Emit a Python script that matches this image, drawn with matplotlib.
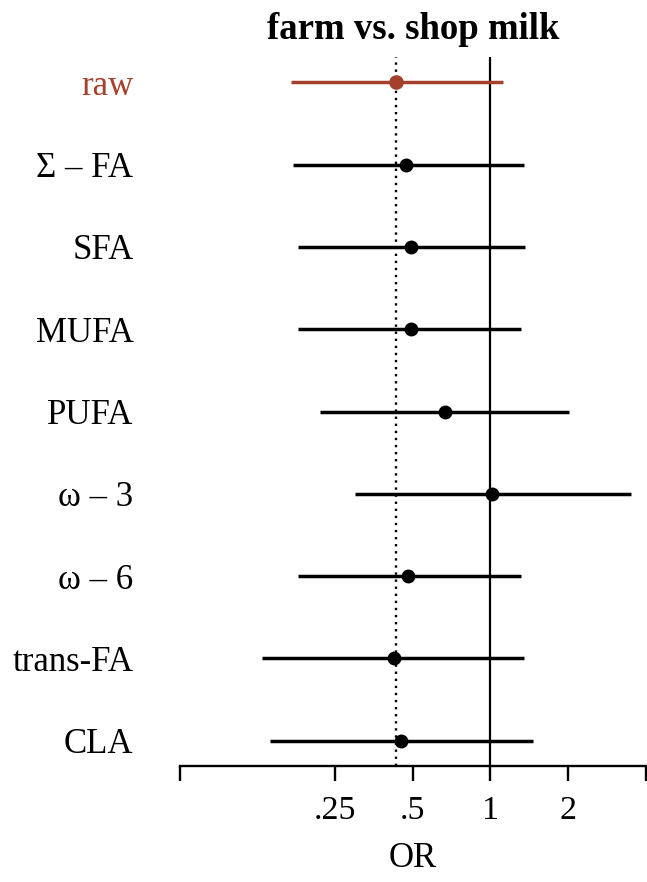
import matplotlib
matplotlib.use("Agg")
import matplotlib.pyplot as plt
from matplotlib.ticker import FixedLocator, NullLocator

labels = ["raw", "\u03a3 \u2013 FA", "SFA", "MUFA", "PUFA",
          "\u03c9 \u2013 3", "\u03c9 \u2013 6", "trans-FA", "CLA"]
est = [0.429, 0.469, 0.490, 0.490, 0.665, 1.018, 0.477, 0.421, 0.451]
lo = [0.169, 0.171, 0.179, 0.179, 0.219, 0.299, 0.179, 0.130, 0.140]
hi = [1.116, 1.347, 1.359, 1.310, 2.014, 3.510, 1.310, 1.347, 1.456]
tick_vals = [0.0625, 0.25, 0.5, 1, 2, 4]
tick_labels = ["", ".25", ".5", "1", "2", ""]
title = "farm vs. shop milk"
xlabel = "OR"

RED = "#A5402C"
plt.rcParams["font.family"] = ["Liberation Serif", "DejaVu Serif"]

W, H = 647, 882
fig = plt.figure(figsize=(W / 100, H / 100), dpi=100)
ax = fig.add_axes([180 / W, 1 - 766 / H, (645.7 - 180) / W, (766 - 57) / H])

ax.set_xscale("log", base=2)
ax.set_xlim(tick_vals[0], tick_vals[-1])
n = len(labels)
ax.set_ylim(n - 1 + 0.31, -0.31)

ax.axvline(1, color="black", lw=1.6, zorder=1)
ax.axvline(est[0], color="black", lw=1.7, linestyle=(0, (1, 2.0)), zorder=1)

for i in range(n):
    c = RED if i == 0 else "black"
    ax.plot([lo[i], hi[i]], [i, i], color=c, lw=2.5, solid_capstyle="butt", zorder=2)
    ax.plot([est[i]], [i], "o", color=c, markersize=9.5 if i == 0 else 9, zorder=3)

for s in ["left", "right", "top"]:
    ax.spines[s].set_visible(False)
ax.spines["bottom"].set_linewidth(1.7)

ax.xaxis.set_major_locator(FixedLocator(tick_vals))
ax.xaxis.set_minor_locator(NullLocator())
ax.set_xticklabels(tick_labels)
ax.tick_params(axis="x", length=11, width=1.7, pad=10, labelsize=24.5)

ax.set_yticks(range(n))
ax.set_yticklabels(labels)
ax.tick_params(axis="y", length=0, pad=33.5, labelsize=25)
ax.get_yticklabels()[0].set_color(RED)

ax.set_xlabel(xlabel, fontsize=25, labelpad=12)

fig.text(413 / W, 1 - 39 / H, title, ha="center", va="baseline",
         fontsize=26.5, fontweight="bold")

fig.savefig("out.png", dpi=100)
